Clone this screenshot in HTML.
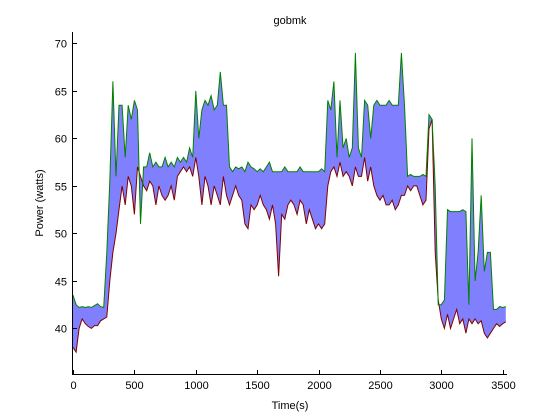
<!DOCTYPE html>
<html><head><meta charset="utf-8"><style>
body{margin:0;background:#fff;}
svg{display:block;font-family:"Liberation Sans",sans-serif;}
</style></head><body>
<svg id="chart" width="560" height="420">
<rect width="560" height="420" fill="#fff"/>
<text x="290" y="24" font-size="11" text-anchor="middle">gobmk</text>
<text x="290" y="409" font-size="11" text-anchor="middle">Time(s)</text>
<text transform="translate(43,203) rotate(-90)" font-size="11" text-anchor="middle">Power (watts)</text>
<g id="plot"></g>
<g id="axes"></g>
</svg>
<script>
const step = 25;
const upperSeries = [
43.5,42.5,42.2,42.3, 42.2,42.3,42.2,42.4, 42.6,42.3,42.2,48, 55.5,66,56,63.5,
63.5,58,63.5,62, 64,63,51,57, 57,58.5,57,57.5, 57,57,58,57, 57.5,57,58,57.5,
58,57.5,59,58, 65,60,63,64, 63.5,64.5,63,63.5, 67,63.5,63.5,57, 56.5,57,56.8,57,
56.5,57.5,57,56.8, 56.5,56.8,56.5,57, 57.5,56.5,56.5,56.5, 56.5,57,56.5,56.5,
56.5,56.5,57,56.5, 56.5,56.5,56.5,56.5, 56.5,56.8,56.5,64, 63,66,58,64,
59,60,58,59, 69,59,58,64, 63.5,60,63.5,64, 63.5,63.5,63.5,64, 63.5,63.5,63.5,69,
63.5,56,56.2,56, 56,56,56.2,56, 62.5,62,55,42.5, 42.5,43,52.5,52.3,
52.3,52.3,52.3,52.5, 52.3,42.5,60,45, 48,54,46,48, 48,42,42,42.3, 42.2,42.3];
const lowerSeries = [
38,37.5,40,41, 40.5,40.2,40,40.3, 40.3,40.8,41,41.2, 45,48,50,52.5,
55,53,56,55, 52,57,56,55, 54.5,55.5,55,53, 55,54,53.5,54, 55,53.5,56,56.5,
57,56.5,57,56, 58,56,53,56, 55,53,55,54, 53,56,54,53, 54,55,54,53.5,
51,50.5,53,52.5, 53,54,53,52.5, 51.5,53,51,45.5, 52,51.5,53,53.5,
53,52,53.5,53, 51,52.5,51.5,50.5, 51,50.5,51,55, 56.5,57,56,57.5,
56,56.5,56,55, 57,56,56,58, 55.5,57,55,54, 53.5,54,53,53, 53.5,52.5,53,54,
54,55,54.5,55, 55,54,53,53.5, 61,62,48,43, 41,40,41.5,40,
41,42,40.5,41, 39.5,41,40.5,41, 40.5,40.8,39.5,39, 39.5,40,40.5,40.2, 40.5,40.7];
const xTicks = [0,500,1000,1500,2000,2500,3000,3500];
const yTicks = [40,45,50,55,60,65,70];

const X0=73, X1=507, Y0=374, Y1=32, xMin=0, xMax=3535, yMin=35.2, yMax=71.2;
const xs = v => X0 + (v - xMin) / (xMax - xMin) * (X1 - X0);
const ys = v => Y0 - (v - yMin) / (yMax - yMin) * (Y0 - Y1);
const NS = "http://www.w3.org/2000/svg";
const plot = document.getElementById('plot');
const axes = document.getElementById('axes');
function mk(tag, attrs, parent) {
  const e = document.createElementNS(NS, tag);
  for (const k in attrs) e.setAttribute(k, attrs[k]);
  parent.appendChild(e);
  return e;
}
const up = upperSeries.map((v,i)=>[xs(i*step), ys(v)]);
const lo = lowerSeries.map((v,i)=>[xs(i*step), ys(v)]);
const fillPts = up.concat(lo.slice().reverse()).map(p=>p[0].toFixed(1)+','+p[1].toFixed(1)).join(' ');
const fill = mk('polygon', {points: fillPts, fill: '#8080ff', stroke: 'none'}, plot);


const red = mk('polyline', {points: lo.map(p=>p[0].toFixed(1)+','+p[1].toFixed(1)).join(' '), fill: 'none', stroke: '#800000', 'stroke-width': 1}, plot);


const green = mk('polyline', {points: up.map(p=>p[0].toFixed(1)+','+p[1].toFixed(1)).join(' '), fill: 'none', stroke: '#008000', 'stroke-width': 1}, plot);



const xa = mk('line', {x1: X0, y1: Y0+0.5, x2: X1, y2: Y0+0.5, stroke: '#000'}, axes);


const ya = mk('line', {x1: X0-0.5, y1: Y1, x2: X0-0.5, y2: Y0+1, stroke: '#000'}, axes);


xTicks.forEach(t => {
  const x = Math.round(xs(t)) + 0.5;
  const tk = mk('line', {x1: x, y1: Y0, x2: x, y2: Y0-4, stroke: '#000'}, axes);
  
  
  const lb = mk('text', {x: x, y: Y0+15, 'font-size': 11, 'text-anchor': 'middle'}, axes);
  lb.textContent = t;
  
  
});
yTicks.forEach(t => {
  const y = Math.round(ys(t)) + 0.5;
  const tk = mk('line', {x1: X0, y1: y, x2: X0+4, y2: y, stroke: '#000'}, axes);
  
  
  const lb = mk('text', {x: X0-6, y: y+4, 'font-size': 11, 'text-anchor': 'end'}, axes);
  lb.textContent = t;
  
  
});
</script>
</body></html>
